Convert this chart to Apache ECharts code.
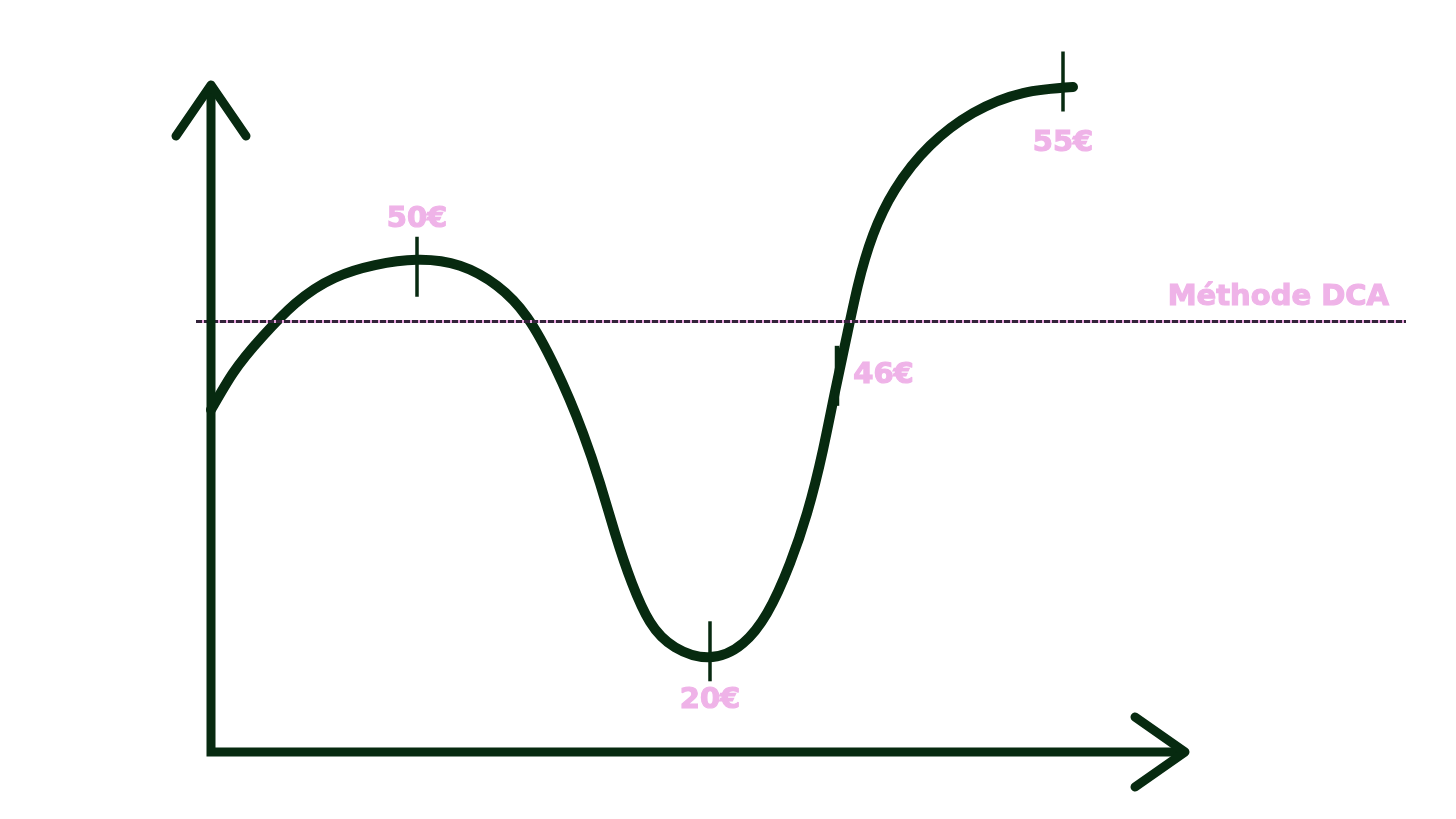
<!DOCTYPE html>
<html>
<head>
<meta charset="utf-8">
<script src="https://cdn.jsdelivr.net/npm/echarts@6/dist/echarts.min.js"></script>
<style>
html,body{margin:0;padding:0;background:#fff;}
#chart{width:1456px;height:819px;}
</style>
</head>
<body>
<div id="chart"></div>
<script>
// ---- data (arbitrary time / price units) ----
const timeSteps = [0, 2.2, 5.1, 8.4, 12.4, 16.4, 20.6, 24.9, 28.6, 31.6, 34.4, 37.2, 38.9, 40.4, 42.1, 43.9, 46.4, 49.7, 53.2, 55.6, 57.9, 59.6, 61.2, 62.4, 63.5, 64.7, 66.2, 68.4, 71.9, 76.2, 81.2, 86.2];
const priceCurve = [51.3, 56.8, 62.2, 67.2, 71.1, 73.0, 73.8, 72.9, 69.9, 65.2, 57.7, 47.8, 40.3, 32.8, 25.3, 19.5, 15.7, 14.2, 16.3, 20.8, 28.3, 35.8, 45.3, 54.0, 61.8, 70.0, 77.5, 84.3, 90.9, 95.8, 98.8, 99.7];
const keyTimes = [20.6, 49.9, 62.6, 85.2];
const keyValues = [73.8, 14.2, 56.4, 99.7];
const keyLabels = ['50€', '20€', '46€', '55€'];
const dcaLevel = 64.6;
const dcaLabel = 'Méthode DCA';
const xAxisEnd = 97.4;
const yAxisEnd = 100;

// ---- styles ----
const GREEN = '#072a10';
const PINK = '#efb3e8';
const keyStyles = [
  {offset: [0, 7], pos: 'top', dist: 3, w: 3.5},
  {offset: [0, -6], pos: 'bottom', dist: 5, w: 3.5},
  {offset: [0, 0], pos: 'right', dist: 14, w: 4.5},
  {offset: [0, -5.5], pos: 'bottom', dist: 17, w: 3.5}
];

const chart = echarts.init(document.getElementById('chart'), null, {renderer: 'canvas'});

const labelFont = {fontFamily: 'DejaVu Sans', fontWeight: 'bold', fontSize: 29, color: PINK,
  textBorderColor: PINK, textBorderWidth: 1.2};

// natural cubic spline through the data points, positioned with the chart's scales
function renderCurve(params, api) {
  if (params.dataIndex !== 0) return null;
  const pts = timeSteps.map((t, i) => api.coord([t, priceCurve[i]]));
  const n = pts.length;
  const x = pts.map(p => p[0]), y = pts.map(p => p[1]);
  const h = [];
  for (let i = 0; i < n - 1; i++) h.push(x[i + 1] - x[i]);
  const a = new Array(n).fill(0), b = new Array(n).fill(1), c = new Array(n).fill(0), r = new Array(n).fill(0);
  for (let i = 1; i < n - 1; i++) {
    a[i] = h[i - 1];
    b[i] = 2 * (h[i - 1] + h[i]);
    c[i] = h[i];
    r[i] = 6 * ((y[i + 1] - y[i]) / h[i] - (y[i] - y[i - 1]) / h[i - 1]);
  }
  for (let i = 1; i < n; i++) {
    const m = a[i] / b[i - 1];
    b[i] -= m * c[i - 1];
    r[i] -= m * r[i - 1];
  }
  const M = new Array(n).fill(0);
  M[n - 1] = r[n - 1] / b[n - 1];
  for (let i = n - 2; i >= 0; i--) M[i] = (r[i] - c[i] * M[i + 1]) / b[i];
  let d = 'M' + x[0] + ' ' + y[0];
  for (let i = 0; i < n - 1; i++) {
    const hi = h[i];
    const s = (y[i + 1] - y[i]) / hi;
    const d0 = s - hi * (2 * M[i] + M[i + 1]) / 6;
    const d1 = s + hi * (M[i] + 2 * M[i + 1]) / 6;
    d += ' C' + (x[i] + hi / 3) + ' ' + (y[i] + d0 * hi / 3) + ' ' +
         (x[i + 1] - hi / 3) + ' ' + (y[i + 1] - d1 * hi / 3) + ' ' + x[i + 1] + ' ' + y[i + 1];
  }
  return {
    type: 'path',
    shape: {pathData: d},
    style: {stroke: GREEN, lineWidth: 10, fill: null, lineCap: 'round', lineJoin: 'round'}
  };
}

chart.setOption({
  animation: false,
  backgroundColor: '#ffffff',
  grid: {left: 196, right: 50, top: 85, bottom: 67},
  xAxis: {type: 'value', min: -1.5, max: 119.5, show: false},
  yAxis: {type: 'value', min: 0, max: 100, show: false},
  series: [
    {
      type: 'custom',
      clip: false,
      silent: true,
      z: 3,
      data: [[timeSteps[0], priceCurve[0]]],
      renderItem: renderCurve
    },
    {
      type: 'scatter',
      clip: false,
      z: 4,
      data: keyTimes.map((t, i) => ({
        value: [t, keyValues[i]],
        symbol: 'rect',
        symbolSize: [keyStyles[i].w, 60],
        symbolOffset: keyStyles[i].offset,
        itemStyle: {color: GREEN, opacity: 1},
        label: Object.assign({show: true, position: keyStyles[i].pos, distance: keyStyles[i].dist, formatter: keyLabels[i]}, labelFont)
      })),
      markLine: {
        silent: true,
        symbol: 'none',
        animation: false,
        data: [
          {yAxis: dcaLevel, lineStyle: {color: '#e9a6df', width: 3, type: 'solid'}, label: {show: false}},
          {yAxis: dcaLevel, lineStyle: {color: '#33233a', width: 3, type: [6, 2]},
           label: Object.assign({show: true, position: 'insideEndTop', distance: [17, 9], formatter: dcaLabel}, labelFont)}
        ]
      }
    }
  ]
});

// axes with open arrow heads
const conv = p => chart.convertToPixel({gridIndex: 0}, p);
const o = conv([0, 0]);
const yt = conv([0, yAxisEnd]);
const xt = conv([xAxisEnd, 0]);
const axisStyle = {stroke: GREEN, lineWidth: 9, lineCap: 'round', lineJoin: 'round', fill: null};
chart.setOption({
  graphic: [
    {type: 'polyline', z: 100, shape: {points: [yt, o, xt]}, style: Object.assign({}, axisStyle, {lineJoin: 'miter', lineCap: 'butt'})},
    {type: 'polyline', z: 100, shape: {points: [[yt[0] - 35, yt[1] + 51], yt, [yt[0] + 35, yt[1] + 51]]}, style: axisStyle},
    {type: 'polyline', z: 100, shape: {points: [[xt[0] - 50, xt[1] - 35], xt, [xt[0] - 50, xt[1] + 35]]}, style: axisStyle}
  ]
});
</script>
</body>
</html>
